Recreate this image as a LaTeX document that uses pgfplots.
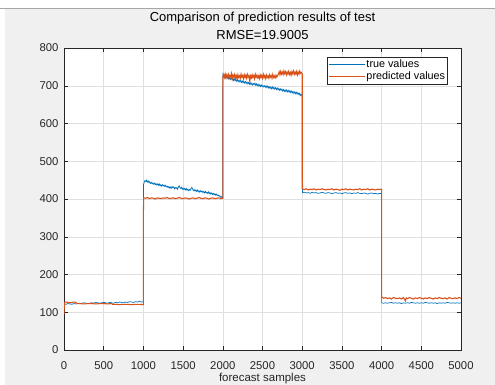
\documentclass[border=0pt]{standalone}
\usepackage{pgfplots}
\pgfplotsset{compat=1.18}
\usepackage{fontspec}
\setmainfont{Liberation Sans}
\definecolor{mblue}{RGB}{0,114,189}
\definecolor{morange}{RGB}{217,83,25}
\definecolor{bgray}{RGB}{240,240,240}
\definecolor{axgray}{RGB}{38,38,38}
\definecolor{gridgray}{RGB}{223,223,223}
\begin{document}
\begin{tikzpicture}
\useasboundingbox (0pt,0pt) rectangle (495pt,385pt);
\fill[bgray] (0pt,0pt) rectangle (495pt,385pt);
\fill[white] (0pt,0pt) rectangle (5pt,385pt);
\fill[white] (0pt,377pt) rectangle (495pt,385pt);
\draw[black!35, line width=0.8pt] (0pt,377pt) -- (495pt,377pt);
\begin{axis}[
  at={(64pt,35pt)}, anchor=south west,
  width=397pt, height=302pt, scale only axis,
  xmin=0, xmax=5000, ymin=0, ymax=800,
  xtick={0,500,...,5000}, ytick={0,100,...,800},
  scaled ticks=false,
  /pgf/number format/1000 sep={},
  /pgf/number format/assume math mode=true,
  axis background/.style={fill=white},
  grid=major, major grid style={gridgray, line width=0.5pt},
  axis line style={axgray, line width=0.5pt},
  tick style={axgray, line width=0.5pt},
  major tick length=4pt, tick align=inside,
  xtick pos=both, ytick pos=both,
  ticklabel style={font=\fontsize{11.3}{13}\selectfont, text=axgray},
  xticklabel style={yshift=-8.5pt},
  yticklabel style={xshift=-2pt},
  title={Comparison of prediction results of test\\RMSE=19.9005},
  title style={align=center, font=\fontsize{13}{18}\selectfont, at={(0.5,1)}, anchor=south, yshift=-1pt},
  xlabel={forecast samples},
  xlabel style={font=\fontsize{11.5}{13}\selectfont, text=axgray, at={(axis description cs:0.5,0)}, anchor=center, yshift=-28.5pt},
  legend style={at={(0.967,0.970)}, anchor=north east, draw=axgray, fill=white, line width=0.5pt,
    font=\fontsize{10.8}{13}\selectfont, inner xsep=1pt, inner ysep=1pt, row sep=0pt, nodes={inner sep=1.5pt}},
  legend cell align=left,
  legend image code/.code={\draw[#1, line width=0.8pt] (-3pt,0pt) -- (33pt,0pt);},
  no marks,
]
\addplot[mblue, line width=0.7pt] coordinates {
(0,119) (10,122) (25,121) (50,123) (75,122) (100,121) (125,123) (150,122) (175,124) (200,123) (225,124) (250,125) (275,124) (300,123) (325,124) (350,125) (375,124) (400,126) (425,125) (450,124) (475,125) (500,126) (525,125) (550,124) (575,126) (600,125) (625,124) (650,126) (675,125) (700,127) (725,126) (750,125) (775,127) (800,126) (825,128) (850,127) (875,126) (900,128) (925,127) (950,129) (975,127) (1000,128)
(1000,438) (1010,444) (1020,449) (1030,446) (1040,450) (1050,445) (1060,448) (1070,443) (1080,446) (1090,441) (1100,444) (1110,440) (1120,443) (1130,439) (1140,442) (1150,438) (1160,441) (1170,437) (1180,440) (1190,436) (1200,440) (1210,435) (1220,438) (1230,434) (1240,438) (1250,435) (1260,437) (1270,433) (1280,436) (1290,432) (1300,434) (1310,430) (1320,433) (1330,429) (1340,432) (1350,428) (1360,433) (1370,430) (1380,432) (1390,427) (1400,431) (1410,428) (1420,430) (1430,426) (1440,431) (1450,435) (1460,430) (1470,428) (1480,431) (1490,426) (1500,429) (1510,425) (1520,428) (1530,424) (1540,428) (1550,423) (1560,426) (1570,422) (1580,425) (1590,423) (1600,428) (1610,431) (1620,426) (1630,422) (1640,425) (1650,421) (1660,424) (1670,420) (1680,424) (1690,419) (1700,422) (1710,418) (1720,422) (1730,419) (1740,421) (1750,417) (1760,420) (1770,416) (1780,420) (1790,416) (1800,418) (1810,415) (1820,419) (1830,414) (1840,417) (1850,413) (1860,416) (1870,412) (1880,415) (1890,411) (1900,414) (1910,410) (1920,413) (1930,409) (1940,411) (1950,408) (1960,409) (1970,405) (1980,407) (1990,403) (2000,404)
(2000,640) (2001,735) (2005,727) (2015,723) (2025,728) (2035,721) (2045,725) (2055,719) (2065,724) (2075,718) (2085,722) (2095,717) (2105,721) (2115,716) (2125,720) (2135,714) (2145,719) (2155,713) (2165,717) (2175,712) (2185,716) (2195,711) (2205,715) (2215,710) (2225,714) (2235,709) (2245,713) (2255,708) (2265,712) (2275,707) (2285,711) (2295,706) (2305,710) (2315,705) (2325,709) (2335,704) (2345,708) (2355,703) (2365,707) (2375,702) (2385,706) (2395,703) (2405,707) (2415,701) (2425,705) (2435,700) (2445,704) (2455,699) (2465,703) (2475,698) (2485,702) (2495,698) (2505,701) (2515,697) (2525,700) (2535,696) (2545,700) (2555,695) (2565,699) (2575,694) (2585,698) (2595,693) (2605,697) (2615,692) (2625,697) (2635,692) (2645,696) (2655,691) (2665,695) (2675,690) (2685,694) (2695,689) (2705,693) (2715,688) (2725,692) (2735,688) (2745,691) (2755,686) (2765,690) (2775,685) (2785,689) (2795,684) (2805,689) (2815,684) (2825,688) (2835,683) (2845,687) (2855,682) (2865,686) (2875,681) (2885,685) (2895,680) (2905,684) (2915,679) (2925,683) (2935,678) (2945,682) (2955,677) (2965,680) (2975,674) (2985,678) (3000,672)
(3000,478) (3004,417) (3025,418) (3050,416) (3075,417) (3100,415) (3125,418) (3150,416) (3175,417) (3200,415) (3225,416) (3250,418) (3275,416) (3300,415) (3325,417) (3350,416) (3375,414) (3400,416) (3425,417) (3450,415) (3475,416) (3500,414) (3525,416) (3550,417) (3575,415) (3600,416) (3625,414) (3650,416) (3675,415) (3700,417) (3725,415) (3750,414) (3775,416) (3800,415) (3825,413) (3850,415) (3875,416) (3900,414) (3925,415) (3950,413) (3975,415) (4000,414)
(4000,125) (4025,124) (4050,125) (4075,124) (4100,125) (4125,126) (4150,124) (4175,125) (4200,124) (4225,125) (4250,123) (4275,125) (4300,124) (4325,125) (4350,124) (4375,126) (4400,125) (4425,124) (4450,125) (4475,124) (4500,125) (4525,124) (4550,126) (4575,125) (4600,124) (4625,125) (4650,124) (4675,125) (4700,123) (4725,125) (4750,124) (4775,125) (4800,124) (4825,126) (4850,125) (4875,124) (4900,125) (4925,124) (4950,125) (4975,124) (5000,125)
};
\addlegendentry{true values}
\addplot[morange, line width=1.1pt] coordinates {
(0,95) (5,126) (25,127) (50,126) (75,125) (100,126) (125,127) (150,126) (160,123) (200,123) (250,122) (300,123) (350,123) (400,122) (450,123) (500,123) (550,122) (600,123) (610,121) (650,121) (700,120) (750,121) (800,121) (850,120) (900,121) (950,121) (1000,120)
(1000,365) (1004,403) (1025,402) (1050,404) (1075,401) (1100,403) (1125,402) (1150,400) (1175,403) (1200,402) (1225,401) (1250,403) (1275,402) (1300,404) (1325,401) (1350,402) (1375,403) (1400,401) (1425,402) (1450,404) (1475,402) (1500,401) (1525,403) (1550,402) (1575,400) (1600,402) (1625,403) (1650,401) (1675,402) (1700,404) (1725,402) (1750,401) (1775,403) (1800,402) (1825,400) (1850,402) (1875,403) (1900,401) (1925,402) (1950,403) (1975,401) (2000,402)
(2000,724) (2010,729) (2020,722) (2030,731) (2040,721) (2050,729) (2060,723) (2070,730) (2080,720) (2090,727) (2100,722) (2110,732) (2120,719) (2130,728) (2140,723) (2150,730) (2160,721) (2170,727) (2180,718) (2190,729) (2200,722) (2210,726) (2220,720) (2230,731) (2240,723) (2250,727) (2260,719) (2270,729) (2280,722) (2290,728) (2300,720) (2310,730) (2320,723) (2330,727) (2340,712) (2350,726) (2360,721) (2370,729) (2380,722) (2390,727) (2400,719) (2410,730) (2420,723) (2430,728) (2440,721) (2450,726) (2460,719) (2470,729) (2480,722) (2490,727) (2500,720) (2510,730) (2520,722) (2530,727) (2540,719) (2550,728) (2560,722) (2570,726) (2580,720) (2590,729) (2600,723) (2610,727) (2620,720) (2630,730) (2640,722) (2650,726) (2660,721) (2670,728) (2680,723) (2690,727) (2700,731) (2710,737) (2720,729) (2730,738) (2740,731) (2750,736) (2760,730) (2770,739) (2780,732) (2790,737) (2800,729) (2810,736) (2820,731) (2830,738) (2840,730) (2850,735) (2860,728) (2870,737) (2880,732) (2890,739) (2900,730) (2910,736) (2920,731) (2930,738) (2940,729) (2950,736) (2960,731) (2970,739) (2980,733) (2990,735) (3000,731)
(3000,427) (3025,425) (3050,427) (3075,424) (3100,426) (3125,425) (3150,427) (3175,424) (3200,426) (3225,425) (3250,427) (3275,425) (3300,424) (3325,426) (3350,425) (3375,427) (3400,424) (3425,426) (3450,425) (3475,423) (3500,426) (3525,425) (3550,427) (3575,424) (3600,426) (3625,425) (3650,424) (3675,426) (3700,425) (3725,427) (3750,424) (3775,426) (3800,425) (3825,427) (3850,424) (3875,426) (3900,425) (3925,424) (3950,426) (3975,425) (4000,426)
(4000,141) (4025,137) (4050,139) (4075,136) (4100,138) (4125,135) (4150,139) (4175,137) (4200,136) (4225,138) (4250,135) (4275,139) (4300,130) (4310,138) (4325,136) (4350,139) (4375,137) (4400,135) (4425,138) (4450,136) (4475,139) (4500,137) (4525,135) (4550,138) (4575,136) (4600,139) (4625,137) (4650,135) (4675,138) (4700,136) (4725,139) (4750,137) (4775,136) (4800,138) (4825,135) (4850,139) (4875,137) (4900,136) (4925,138) (4950,136) (4975,139) (5000,137)
};
\addlegendentry{predicted values}
\end{axis}
\end{tikzpicture}
\end{document}
